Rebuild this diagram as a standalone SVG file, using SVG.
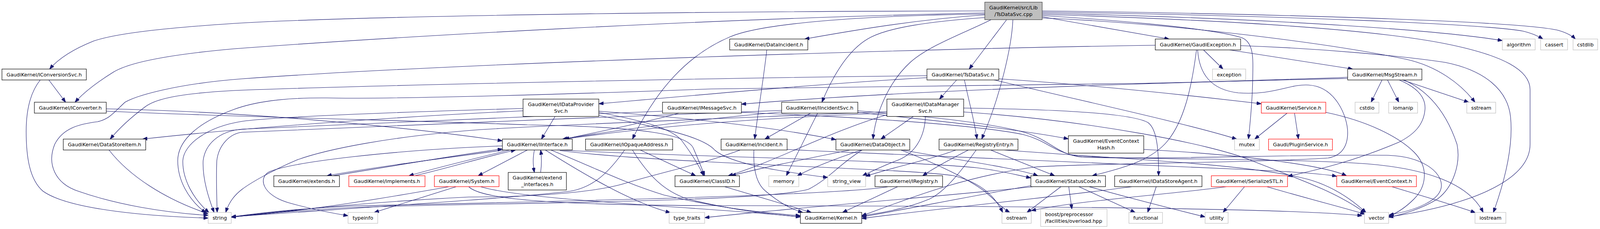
<svg xmlns="http://www.w3.org/2000/svg" width="4226" height="587" viewBox="0 0 4226 587">
<defs>
<marker id="a" viewBox="0 0 12 9" markerWidth="12" markerHeight="9" refX="12" refY="4.5" orient="auto" markerUnits="userSpaceOnUse"><path d="M0,0 L12,4.5 L0,9 z" fill="#191970" stroke="#191970" stroke-width="1"/></marker>
<style>
.n rect{fill:#fff;stroke:#000;stroke-width:1.2}
.g rect{fill:#fff;stroke:#bfbfbf;stroke-width:1.2}
.r rect{fill:#fff;stroke:#f00;stroke-width:1.2}
.root rect{fill:#bfbfbf;stroke:#404040;stroke-width:1.2}
text{font-family:"DejaVu Sans","Liberation Sans",sans-serif;font-size:12.8px;text-anchor:middle;fill:#000}
.e path{fill:none;stroke:#191970;stroke-width:1.1;marker-end:url(#a)}
</style>
</defs>
<rect width="4226" height="587" fill="#fff"/>
<g id="edges" class="e">
<path d="M2521,28 C1700,29 900,42 600,60 C420,72 300,85 240,105 C190,125 150,150 127,177"/>
<path d="M2521,33 C1800,48 1000,95 600,125 C430,140 330,160 290,185 C245,213 212,240 192,262"/>
<path d="M2521,38 C2350,50 2200,75 2060,100"/>
<path d="M2577,50.5 L2481,177"/>
<path d="M2521,45 C2380,55 2280,70 2230,95 C2170,125 2130,200 2104,262"/>
<path d="M2537,50.5 C2480,80 2380,115 2330,160 C2270,215 2240,300 2235,356.5"/>
<path d="M2521,36 C2200,40 1950,60 1870,94 C1760,140 1680,230 1619,356.5"/>
<path d="M2593,50.5 C2590,120 2560,250 2513,356.5"/>
<path d="M2668,43 L2993,100"/>
<path d="M2668,40 C2800,48 3100,70 3180,97 C3210,110 3208,150 3207,200 C3206,260 3200,320 3196,356.5"/>
<path d="M2668,28 C3300,36 3900,55 3990,78 C4010,84 4025,92 4033,100"/>
<path d="M2668,31 C3300,40 3800,62 3900,80 C3925,86 3940,94 3950,100"/>
<path d="M2668,34 C3300,48 3700,80 3846,104"/>
<path d="M2668,37 C3100,50 3500,72 3700,112 C3850,142 3917,180 3917,230 L3917,370 C3917,450 3800,520 3555,556"/>
<path d="M2668,46 C3000,60 3400,110 3600,152 C3680,170 3740,215 3776,262"/>
<path d="M2373,194 C1800,200 900,220 600,232 C450,240 395,255 370,275 C330,305 300,335 282,356.5"/>
<path d="M2373,199 C2100,215 1850,238 1533,266"/>
<path d="M2557,202 C2800,218 3050,245 3229,266"/>
<path d="M2545,205 C2800,265 3050,320 3166,356.5"/>
<path d="M2449,205 L2405,254"/>
<path d="M2469,205 C2480,260 2495,310 2501,356.5"/>
<path d="M2467,277 C2700,280 2900,290 2940,315 C2965,335 2966,400 2966,450.5"/>
<path d="M2271,294 C2150,330 2050,380 1950,420 C1910,435 1885,445 1864,450.5"/>
<path d="M2338,298.5 L2255,356.5"/>
<path d="M2369,298.5 C2368,340 2350,390 2300,410 C2260,425 2230,440 2208,450.5"/>
<path d="M2271,290 C2000,300 1700,320 1445,356.5"/>
<path d="M2467,287 C2800,310 3100,370 3200,410 C3300,450 3420,490 3495,546"/>
<path d="M2271,286 C2000,298 1400,320 1220,333 C1000,350 837,382 760,410 C690,440 640,470 620,485 C600,500 585,520 578,544.5"/>
<path d="M2075,290 L1958,356.5"/>
<path d="M2093,290 L2013,450.5"/>
<path d="M2001,287 C1800,305 1600,330 1440,356.5"/>
<path d="M2196,288 C2400,310 2600,330 2735,356"/>
<path d="M2196,284 C2400,300 2550,318 2625,340 C2690,360 2705,395 2770,403 C2950,410 3350,395 3550,398 C3640,400 3690,440 3690,475 C3690,515 3620,540 3556,551"/>
<path d="M2001,283 C1600,295 900,330 620,339 C590,342 560,370 555,412 C553,460 555,510 556,544.5"/>
<path d="M1738,290 C1650,315 1520,340 1445,356.5"/>
<path d="M1696,285 C1300,300 800,325 620,331 C560,336 525,370 520,412 C518,460 535,510 548,544.5"/>
<path d="M1898,288 C2200,300 2500,320 2620,345 C2680,360 2700,392 2760,400 C2900,410 3300,405 3500,420 C3650,432 3760,470 3797,544.5"/>
<path d="M1421,298.5 L1386,356.5"/>
<path d="M1339,278 C1000,288 700,300 620,311 C530,325 470,370 468,412 C467,460 495,510 535,545"/>
<path d="M1339,284 C1000,300 600,330 365,356.5"/>
<path d="M1533,285 C1800,305 2000,330 2140,358"/>
<path d="M1533,288 C1650,310 1720,330 1745,360 C1775,400 1790,425 1801,450.5"/>
<path d="M1533,296 C1700,330 1800,350 1830,385 C1870,420 2000,440 2119,455"/>
<path d="M272,279 C600,285 1000,320 1286,361"/>
<path d="M272,285 C600,300 1100,310 1350,320 C1650,325 1760,345 1775,380 C1790,415 1798,435 1804,450.5"/>
<path d="M125,205 L168,262"/>
<path d="M103,205 C75,240 67,290 67,337 C67,400 75,460 110,490 C180,540 400,555 533,559"/>
<path d="M3081,128 L3131,177"/>
<path d="M3148,128 L3463,177"/>
<path d="M3176,117 C3400,125 3600,145 3700,160 C3800,180 3860,230 3867,300 C3875,380 3850,470 3823,544.5"/>
<path d="M2957.5,116 C2400,124 1200,160 620,202 C450,215 350,245 320,262 C290,290 280,305 250,312 C200,318 160,330 140,370 C120,420 140,470 200,490 C300,525 420,545 533,552"/>
<path d="M3063,128 C3050,230 3030,310 2990,360 C2950,410 2880,430 2796,450.5"/>
<path d="M3066,128 C3070,190 3100,230 3170,238 C3260,245 3300,215 3350,218 C3420,222 3450,300 3450,340 C3450,380 3430,400 3400,405 C3200,418 2800,418 2650,428 C2450,455 2300,520 2206,553"/>
<path d="M3450,201 C3150,208 2400,225 1898,267"/>
<path d="M3450,198 C3200,207 3050,212 2900,214 C2500,220 2100,222 1820,228 C1500,240 1000,255 837,251 C720,250 650,262 600,280 C490,320 455,370 455,412 C455,460 480,510 527,546"/>
<path d="M3538,205 L3510,262"/>
<path d="M3552,205 L3581,262"/>
<path d="M3590,205 L3760,262"/>
<path d="M3582,205 C3630,225 3650,250 3648,280 C3645,320 3620,345 3580,365 C3450,420 3350,440 3297,452"/>
<path d="M3594,205 C3650,230 3700,280 3730,370 C3740,420 3720,480 3680,510 C3640,535 3590,550 3555,557"/>
<path d="M3295,290 L3212,356.5"/>
<path d="M3314,290 L3324,356.5"/>
<path d="M3394,288 C3500,310 3580,350 3620,390 C3660,430 3650,480 3620,510 C3600,530 3580,545 3555,554"/>
<path d="M279,384.5 C330,450 420,510 533,548"/>
<path d="M1368,384.5 C1364,405 1364,420 1368,442"/>
<path d="M1384,442 C1387,420 1387,405 1384,384.5"/>
<path d="M1350,384.5 L1224,450.5"/>
<path d="M1292,384.5 C1100,410 950,430 837,450.5"/>
<path d="M852,450.5 C1000,427 1150,400 1286,382"/>
<path d="M1305,384.5 C1200,410 1100,435 1047,450.5"/>
<path d="M1062,450.5 C1150,430 1230,405 1320,384.5"/>
<path d="M1286,374 C1000,385 750,415 690,440 C660,455 670,500 740,520 C800,537 860,548 891,553"/>
<path d="M1396,384.5 C1500,450 1620,520 1716,545"/>
<path d="M1410,384.5 C1500,420 1600,470 1700,500 C1850,535 1950,545 2049,553"/>
<path d="M1433,384.5 C1700,400 2300,410 2500,430 C2560,437 2600,448 2639,456"/>
<path d="M1433,386 C1700,420 2300,430 2440,450 C2520,470 2550,510 2567,544.5"/>
<path d="M1150,478.5 C1000,505 800,540 592,556"/>
<path d="M1168,478.5 L958,544.5"/>
<path d="M1230,478.5 C1350,515 1800,530 2049,556"/>
<path d="M1200,478.5 C1230,510 1400,525 1800,527 C2600,528 3300,533 3487,553"/>
<path d="M1599,384.5 C1560,440 1520,480 1460,490 C1300,510 800,540 592,556"/>
<path d="M1639,384.5 L1781,450.5"/>
<path d="M1619,384.5 C1660,450 1700,490 1760,510 C1880,540 1980,550 2049,556"/>
<path d="M1855,478.5 L2077,544.5"/>
<path d="M1963,128 C1955,200 1940,290 1932,356.5"/>
<path d="M1930,384.5 C1928,430 1935,470 1960,490 C1990,515 2020,535 2055,544.5"/>
<path d="M1895,384.5 C1800,420 1700,440 1600,470 C1500,500 1300,505 1200,505 C900,520 700,545 592,556"/>
<path d="M2015,383 C2500,408 3000,425 3200,435 C3330,441 3390,446 3422,452"/>
<path d="M2176,384.5 C2050,410 1950,430 1872,450.5"/>
<path d="M2205,384.5 C2130,410 2080,430 2041,450.5"/>
<path d="M2207,384.5 C2150,420 2120,460 2070,485 C1950,520 1200,520 900,532 C750,540 650,550 592,557"/>
<path d="M2306,384.5 C2400,420 2480,460 2520,490 C2545,510 2560,530 2585,544.5"/>
<path d="M2310,384.5 C2450,410 2600,430 2657,450.5"/>
<path d="M2479,384.5 C2440,405 2400,425 2362,450.5"/>
<path d="M2536,384.5 L2700,450.5"/>
<path d="M2499,384.5 C2460,440 2420,490 2380,510 C2320,535 2260,545 2206,553"/>
<path d="M2447,384.5 C2380,410 2280,430 2216,452"/>
<path d="M2570,384.5 C2900,410 3200,420 3350,460 C3420,480 3470,520 3497,545"/>
<path d="M2298,478.5 L2157,544.5"/>
<path d="M2274,478.5 C2150,500 1500,515 900,528 C750,535 650,548 592,556"/>
<path d="M2716,478.5 L2629,544.5"/>
<path d="M2736,478.5 L2744,536"/>
<path d="M2762,478.5 L2906,544.5"/>
<path d="M2788,478.5 C2900,510 3000,535 3085,556"/>
<path d="M2639,476 C2500,500 2300,540 2206,556"/>
<path d="M2645,478.5 C2400,505 2000,535 1804,558"/>
<path d="M2960,478.5 L2938,544.5"/>
<path d="M2898,478.5 C2700,505 2400,535 2206,560"/>
<path d="M3186,478.5 L3131,544.5"/>
<path d="M3243,478.5 C3350,510 3450,535 3494,549"/>
<path d="M3140,478.5 C3000,498 2750,515 2640,540"/>
<path d="M3563,478.5 C3650,505 3720,525 3777,545"/>
<path d="M2928,383 C3150,395 3380,420 3447,450.5"/>
</g>
<g id="n_root" class="root"><rect x="2521" y="5.5" width="147" height="45"/><text x="2594.5" y="23.5">GaudiKernel/src/Lib</text><text x="2594.5" y="40.5">/TsDataSvc.cpp</text></g>
<g id="n_DataIncident" class="n"><rect x="1868" y="100" width="200" height="28"/><text x="1968" y="118.5">GaudiKernel/DataIncident.h</text></g>
<g id="n_GaudiException" class="n"><rect x="2957.5" y="100" width="218.5" height="28"/><text x="3066.75" y="118.5">GaudiKernel/GaudiException.h</text></g>
<g id="n_algorithm" class="g"><rect x="3846" y="100" width="84" height="28"/><text x="3888" y="118.5">algorithm</text></g>
<g id="n_cassert" class="g"><rect x="3944" y="100" width="69" height="28"/><text x="3978.5" y="118.5">cassert</text></g>
<g id="n_cstdlib" class="g"><rect x="4027" y="100" width="63" height="28"/><text x="4058.5" y="118.5">cstdlib</text></g>
<g id="n_IConversionSvc" class="n"><rect x="5" y="177" width="216" height="28"/><text x="113" y="195.5">GaudiKernel/IConversionSvc.h</text></g>
<g id="n_TsDataSvc" class="n"><rect x="2373" y="177" width="184" height="28"/><text x="2465" y="195.5">GaudiKernel/TsDataSvc.h</text></g>
<g id="n_exception" class="g"><rect x="3104" y="177" width="85" height="28"/><text x="3146.5" y="195.5">exception</text></g>
<g id="n_MsgStream" class="n"><rect x="3450" y="177" width="190" height="28"/><text x="3545" y="195.5">GaudiKernel/MsgStream.h</text></g>
<g id="n_IConverter" class="n"><rect x="88" y="262" width="184" height="28"/><text x="180" y="280.5">GaudiKernel/IConverter.h</text></g>
<g id="n_IDataProviderSvc" class="n"><rect x="1339" y="254" width="194" height="44.5"/><text x="1436" y="272">GaudiKernel/IDataProvider</text><text x="1436" y="289">Svc.h</text></g>
<g id="n_IMessageSvc" class="n"><rect x="1696" y="262" width="202" height="28"/><text x="1797" y="280.5">GaudiKernel/IMessageSvc.h</text></g>
<g id="n_IIncidentSvc" class="n"><rect x="2001" y="262" width="195" height="28"/><text x="2098.5" y="280.5">GaudiKernel/IIncidentSvc.h</text></g>
<g id="n_IDataManagerSvc" class="n"><rect x="2270.5" y="254" width="196.5" height="44.5"/><text x="2368.75" y="272">GaudiKernel/IDataManager</text><text x="2368.75" y="289">Svc.h</text></g>
<g id="n_Service" class="r"><rect x="3229" y="262" width="165" height="28"/><text x="3311.5" y="280.5">GaudiKernel/Service.h</text></g>
<g id="n_cstdio" class="g"><rect x="3469" y="262" width="61" height="28"/><text x="3499.5" y="280.5">cstdio</text></g>
<g id="n_iomanip" class="g"><rect x="3555" y="262" width="74" height="28"/><text x="3592" y="280.5">iomanip</text></g>
<g id="n_sstream" class="g"><rect x="3755" y="262" width="74" height="28"/><text x="3792" y="280.5">sstream</text></g>
<g id="n_DataStoreItem" class="n"><rect x="162" y="356.5" width="211" height="28"/><text x="267.5" y="375">GaudiKernel/DataStoreItem.h</text></g>
<g id="n_IInterface" class="n"><rect x="1286" y="356.5" width="179" height="28"/><text x="1375.5" y="375">GaudiKernel/IInterface.h</text></g>
<g id="n_IOpaqueAddress" class="n"><rect x="1499" y="356.5" width="223" height="28"/><text x="1610.5" y="375">GaudiKernel/IOpaqueAddress.h</text></g>
<g id="n_Incident" class="n"><rect x="1846" y="356.5" width="169" height="28"/><text x="1930.5" y="375">GaudiKernel/Incident.h</text></g>
<g id="n_DataObject" class="n"><rect x="2140" y="356.5" width="189" height="28"/><text x="2234.5" y="375">GaudiKernel/DataObject.h</text></g>
<g id="n_RegistryEntry" class="n"><rect x="2404" y="356.5" width="202" height="28"/><text x="2505" y="375">GaudiKernel/RegistryEntry.h</text></g>
<g id="n_EventContextHash" class="n"><rect x="2735" y="348" width="193" height="44.5"/><text x="2831.5" y="366">GaudiKernel/EventContext</text><text x="2831.5" y="383">Hash.h</text></g>
<g id="n_mutex" class="g"><rect x="3160.5" y="356.5" width="63.5" height="28"/><text x="3192.25" y="375">mutex</text></g>
<g id="n_PluginService" class="r"><rect x="3247.5" y="356.5" width="163.5" height="28"/><text x="3329.25" y="375">Gaudi/PluginService.h</text></g>
<g id="n_extends" class="n"><rect x="701" y="450.5" width="168" height="28"/><text x="785" y="469">GaudiKernel/extends.h</text></g>
<g id="n_implements" class="r"><rect x="893" y="450.5" width="195" height="28"/><text x="990.5" y="469">GaudiKernel/implements.h</text></g>
<g id="n_System" class="r"><rect x="1112" y="450.5" width="165.5" height="28"/><text x="1194.75" y="469">GaudiKernel/System.h</text></g>
<g id="n_extend_interfaces" class="n"><rect x="1301" y="442" width="149" height="45"/><text x="1375.5" y="460">GaudiKernel/extend</text><text x="1375.5" y="477">_interfaces.h</text></g>
<g id="n_ClassID" class="n"><rect x="1728" y="450.5" width="165" height="28"/><text x="1810.5" y="469">GaudiKernel/ClassID.h</text></g>
<g id="n_memory" class="g"><rect x="1968" y="450.5" width="77" height="28"/><text x="2006.5" y="469">memory</text></g>
<g id="n_string_view" class="g"><rect x="2119" y="450.5" width="97" height="28"/><text x="2167.5" y="469">string_view</text></g>
<g id="n_IRegistry" class="n"><rect x="2240" y="450.5" width="173" height="28"/><text x="2326.5" y="469">GaudiKernel/IRegistry.h</text></g>
<g id="n_StatusCode" class="n"><rect x="2639" y="450.5" width="191" height="28"/><text x="2734.5" y="469">GaudiKernel/StatusCode.h</text></g>
<g id="n_IDataStoreAgent" class="n"><rect x="2853.5" y="450.5" width="223.5" height="28"/><text x="2965.25" y="469">GaudiKernel/IDataStoreAgent.h</text></g>
<g id="n_SerializeSTL" class="r"><rect x="3101" y="450.5" width="195" height="28"/><text x="3198.5" y="469">GaudiKernel/SerializeSTL.h</text></g>
<g id="n_EventContext" class="r"><rect x="3422" y="450.5" width="204" height="28"/><text x="3524" y="469">GaudiKernel/EventContext.h</text></g>
<g id="n_string" class="g"><rect x="533" y="544.5" width="59" height="28"/><text x="562.5" y="563">string</text></g>
<g id="n_typeinfo" class="g"><rect x="891" y="544.5" width="76" height="28"/><text x="929" y="563">typeinfo</text></g>
<g id="n_type_traits" class="g"><rect x="1713" y="544.5" width="91" height="28"/><text x="1758.5" y="563">type_traits</text></g>
<g id="n_Kernel" class="n"><rect x="2049" y="544.5" width="157" height="28"/><text x="2127.5" y="563">GaudiKernel/Kernel.h</text></g>
<g id="n_ostream" class="g"><rect x="2565" y="544.5" width="75" height="28"/><text x="2602.5" y="563">ostream</text></g>
<g id="n_boost" class="g"><rect x="2664" y="536" width="170" height="44.5"/><text x="2675.5" y="554" style="text-anchor:start">boost/preprocessor</text><text x="2675.5" y="571" style="text-anchor:start">/facilities/overload.hpp</text></g>
<g id="n_functional" class="g"><rect x="2890" y="544.5" width="86" height="28"/><text x="2933" y="563">functional</text></g>
<g id="n_utility" class="g"><rect x="3085" y="544.5" width="59" height="28"/><text x="3114.5" y="563">utility</text></g>
<g id="n_vector" class="g"><rect x="3493" y="544.5" width="62" height="28"/><text x="3524" y="563">vector</text></g>
<g id="n_iostream" class="g"><rect x="3776" y="544.5" width="79" height="28"/><text x="3815.5" y="563">iostream</text></g>
</svg>
